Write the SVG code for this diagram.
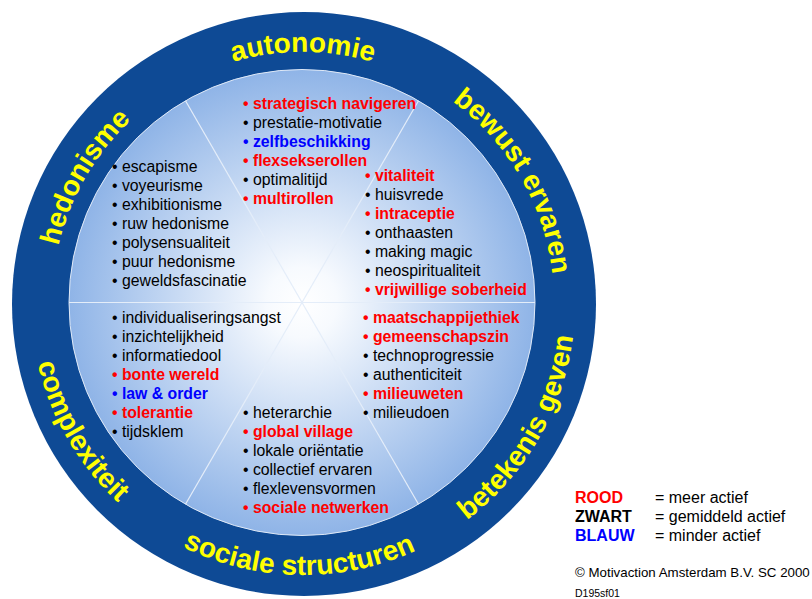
<svg xmlns="http://www.w3.org/2000/svg" xmlns:xlink="http://www.w3.org/1999/xlink" width="812" height="599" viewBox="0 0 812 599">
<style>
  .lbl { font-family: "Liberation Sans", Arial, sans-serif; font-weight: bold; font-size: 28px; fill: #ffff00; }
  .it { font-family: "Liberation Sans", Arial, sans-serif; font-size: 15.8px; fill: #000000; }
  .r { fill: #ff0000; font-weight: bold; }
  .b { fill: #0000ff; font-weight: bold; }
  .k { fill: #000000; }
  .div { stroke: #e4edf9; stroke-width: 1.2; fill: none; }
  .leg { font-family: "Liberation Sans", Arial, sans-serif; font-size: 16px; }
</style>
<defs>
  <radialGradient id="g" cx="50%" cy="50%" r="50%">
    <stop offset="0" stop-color="#ffffff"/>
    <stop offset="0.15" stop-color="#f7fafe"/>
    <stop offset="1" stop-color="#8fb4e7"/>
  </radialGradient>
  <path id="pAut" d="M85.6,177.5 A251,251 0 0 1 520.4,177.5"/>
  <path id="pBew" d="M303,52 A251,251 0 0 1 520.4,428.5"/>
  <path id="pHed" d="M85.6,428.5 A251,251 0 0 1 303,52"/>
  <path id="pSoc" d="M67.4,439 A272,272 0 0 0 538.6,439"/>
  <path id="pBet" d="M303,575 A272,272 0 0 0 538.6,167"/>
  <path id="pCom" d="M67.4,167 A272,272 0 0 0 303,575"/>
</defs>

<g id="wheel">
  <circle cx="304" cy="304" r="292" fill="#0e4a95"/>
  <circle cx="302" cy="302.5" r="233" fill="url(#g)" stroke="#dfe9f7" stroke-width="1"/>
</g>

<g id="connectors">
  <line class="div" x1="69" y1="302.5" x2="535" y2="302.5"/>
  <line class="div" x1="185.5" y1="100.7" x2="418.5" y2="504.3"/>
  <line class="div" x1="418.5" y1="100.7" x2="185.5" y2="504.3"/>
</g>

<g id="autonomie">
  <text class="lbl"><textPath xlink:href="#pAut" href="#pAut" startOffset="50%" text-anchor="middle">autonomie</textPath></text>
  <text class="it" x="243">
    <tspan x="243" y="108.5" class="r">• strategisch navigeren</tspan>
    <tspan x="243" y="127.5" class="k">• prestatie-motivatie</tspan>
    <tspan x="243" y="146.5" class="b">• zelfbeschikking</tspan>
    <tspan x="243" y="165.5" class="r">• flexsekserollen</tspan>
    <tspan x="243" y="184.5" class="k">• optimalitijd</tspan>
    <tspan x="243" y="203.5" class="r">• multirollen</tspan>
  </text>
</g>

<g id="bewust-ervaren">
  <text class="lbl"><textPath xlink:href="#pBew" href="#pBew" startOffset="50%" text-anchor="middle">bewust ervaren</textPath></text>
  <text class="it">
    <tspan x="365" y="180.7" class="r">• vitaliteit</tspan>
    <tspan x="365" y="199.7" class="k">• huisvrede</tspan>
    <tspan x="365" y="218.7" class="r">• intraceptie</tspan>
    <tspan x="365" y="237.7" class="k">• onthaasten</tspan>
    <tspan x="365" y="256.7" class="k">• making magic</tspan>
    <tspan x="365" y="275.7" class="k">• neospiritualiteit</tspan>
    <tspan x="365" y="294.7" class="r">• vrijwillige soberheid</tspan>
  </text>
</g>

<g id="hedonisme">
  <text class="lbl"><textPath xlink:href="#pHed" href="#pHed" startOffset="50%" text-anchor="middle">hedonisme</textPath></text>
  <text class="it">
    <tspan x="112" y="172" class="k">• escapisme</tspan>
    <tspan x="112" y="191" class="k">• voyeurisme</tspan>
    <tspan x="112" y="210" class="k">• exhibitionisme</tspan>
    <tspan x="112" y="229" class="k">• ruw hedonisme</tspan>
    <tspan x="112" y="248" class="k">• polysensualiteit</tspan>
    <tspan x="112" y="267" class="k">• puur hedonisme</tspan>
    <tspan x="112" y="286" class="k">• geweldsfascinatie</tspan>
  </text>
</g>

<g id="complexiteit">
  <text class="lbl"><textPath xlink:href="#pCom" href="#pCom" startOffset="50%" text-anchor="middle">complexiteit</textPath></text>
  <text class="it">
    <tspan x="112" y="322.7" class="k">• individualiseringsangst</tspan>
    <tspan x="112" y="341.7" class="k">• inzichtelijkheid</tspan>
    <tspan x="112" y="360.7" class="k">• informatiedool</tspan>
    <tspan x="112" y="379.7" class="r">• bonte wereld</tspan>
    <tspan x="112" y="398.7" class="b">• law &amp; order</tspan>
    <tspan x="112" y="417.7" class="r">• tolerantie</tspan>
    <tspan x="112" y="436.7" class="k">• tijdsklem</tspan>
  </text>
</g>

<g id="sociale-structuren">
  <text class="lbl"><textPath xlink:href="#pSoc" href="#pSoc" startOffset="49.3%" text-anchor="middle">sociale structuren</textPath></text>
  <text class="it">
    <tspan x="243" y="417.7" class="k">• heterarchie</tspan>
    <tspan x="243" y="436.7" class="r">• global village</tspan>
    <tspan x="243" y="455.7" class="k">• lokale oriëntatie</tspan>
    <tspan x="243" y="474.7" class="k">• collectief ervaren</tspan>
    <tspan x="243" y="493.7" class="k">• flexlevensvormen</tspan>
    <tspan x="243" y="512.7" class="r">• sociale netwerken</tspan>
  </text>
</g>

<g id="betekenis-geven">
  <text class="lbl"><textPath xlink:href="#pBet" href="#pBet" startOffset="50%" text-anchor="middle">betekenis geven</textPath></text>
  <text class="it">
    <tspan x="363" y="322.7" class="r">• maatschappijethiek</tspan>
    <tspan x="363" y="341.7" class="r">• gemeenschapszin</tspan>
    <tspan x="363" y="360.7" class="k">• technoprogressie</tspan>
    <tspan x="363" y="379.7" class="k">• authenticiteit</tspan>
    <tspan x="363" y="398.7" class="r">• milieuweten</tspan>
    <tspan x="363" y="417.7" class="k">• milieudoen</tspan>
  </text>
</g>

<g id="legend">
  <text class="leg" x="575" y="503" fill="#ff0000" font-weight="bold">ROOD</text>
  <text class="leg" x="655" y="503" fill="#000000">= meer actief</text>
  <text class="leg" x="575" y="522" fill="#000000" font-weight="bold">ZWART</text>
  <text class="leg" x="655" y="522" fill="#000000">= gemiddeld actief</text>
  <text class="leg" x="575" y="541" fill="#0000ff" font-weight="bold">BLAUW</text>
  <text class="leg" x="655" y="541" fill="#000000">= minder actief</text>
  <text x="575" y="577" font-family="Liberation Sans, Arial, sans-serif" font-size="13.3" fill="#000000">© Motivaction Amsterdam B.V. SC 2000</text>
  <text x="575" y="597" font-family="Liberation Sans, Arial, sans-serif" font-size="10.5" fill="#000000">D195sf01</text>
</g>
</svg>
